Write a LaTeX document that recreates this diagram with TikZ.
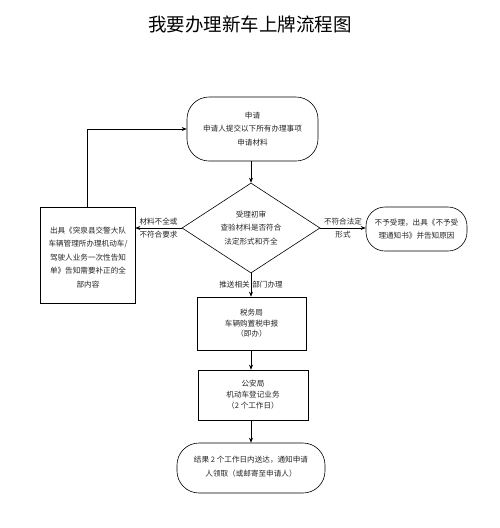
\documentclass[tikz,border=0pt]{standalone}
\usepackage{fontspec}
\setmainfont{Noto Sans CJK SC}
\usetikzlibrary{shapes.geometric,arrows.meta}
\tikzset{
  txt/.style={font=\fontsize{7.6}{13.5}\selectfont, align=center, text=black!85},
  rbox/.style={draw, line width=0.6pt, rounded corners=22pt, inner sep=0pt},
  sbox/.style={draw, line width=0.6pt, inner sep=0pt},
  conn/.style={line width=0.6pt, -{Stealth[length=5pt,width=4pt]}},
  lab/.style={font=\fontsize{7.6}{13.5}\selectfont, align=center, text=black!85, inner sep=1pt},
  vlab/.style={lab, inner sep=2.8pt}
}
\begin{document}
\begin{tikzpicture}[x=1pt,y=-1pt]
\useasboundingbox[fill=white] (0,0) rectangle (500,528);
\node[font=\fontsize{18.5}{20}\selectfont] (title) at (250,24) {我要办理新车上牌流程图};
% start
\node[rbox, minimum width=131pt, minimum height=64pt] (start) at (252.5,129) {};
\node[txt] (starttxt) at (start) {申请\\申请人提交以下所有办理事项\\申请材料};
% decision
\node[draw, line width=0.6pt, diamond, minimum width=138pt, minimum height=90pt, inner sep=0pt] (dec) at (251,228) {};
\node[txt] (dectxt) at (dec) {受理初审\\查验材料是否符合\\法定形式和齐全};
% left box
\node[sbox, minimum width=95pt, minimum height=96pt] (left) at (87.5,255) {};
\node[txt] (lefttxt) at (88,257.5) {出具《突泉县交警大队\\车辆管理所办理机动车/\\驾驶人业务一次性告知\\单》告知需要补正的全\\部内容};
% right box
\node[rbox, rounded corners=19pt, minimum width=101pt, minimum height=44pt] (right) at (416.5,229) {};
\node[txt] (righttxt) at (right) {不予受理，出具《不予受\\理通知书》并告知原因};
% tax
\node[sbox, minimum width=109pt, minimum height=53pt] (tax) at (251.5,323.5) {};
\node[txt, font=\fontsize{7.6}{10.5}\selectfont] (taxtxt) at (tax) {税务局\\车辆购置税申报\\（即办）};
% police
\node[sbox, minimum width=110pt, minimum height=50pt] (police) at (253,395) {};
\node[txt, font=\fontsize{7.6}{11}\selectfont] (policetxt) at (police) {公安局\\机动车登记业务\\（2 个工作日）};
% end
\node[rbox, minimum width=148pt, minimum height=50pt] (end) at (251,468) {};
\node[txt] (endtxt) at (251,466.5) {结果 2 个工作日内送达，通知申请\\人领取（或邮寄至申请人）};
% connectors
\draw[conn] (start.south -| dec.north) -- (dec.north);
\draw[conn] (dec.west) -- node[vlab, above] {材料不全或} node[vlab, below] {不符合要求} (left.east |- dec.west);
\draw[conn] (left.north) |- (start.west);
\draw[conn] (dec.east) -- node[vlab, above] {不符合法定} node[vlab, below] {形式} (right.west |- dec.east);
\draw[conn] (dec.south) -- node[lab, left, pos=0.5] {推送相关} node[lab, right, pos=0.5] {部门办理} (dec.south |- tax.north);
\draw[conn] (tax.south -| dec.south) -- (dec.south |- police.north);
\draw[conn] (police.south -| dec.south) -- (dec.south |- end.north);
\end{tikzpicture}
\end{document}
